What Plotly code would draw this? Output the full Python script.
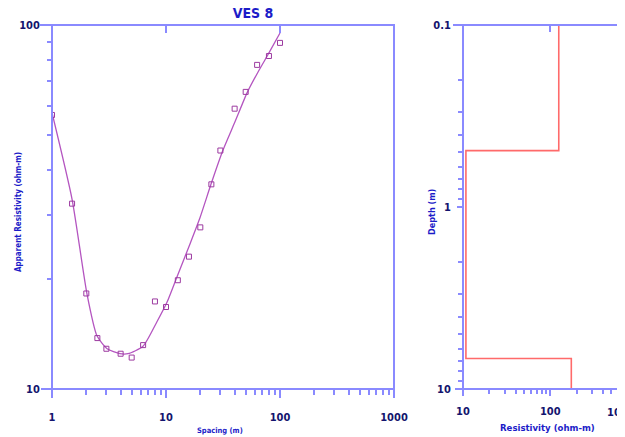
import plotly.graph_objects as go

# ---------------- data ----------------
spacing_obs = [1, 1.5, 2, 2.5, 3, 4, 5, 6.3, 8, 10, 12.7, 15.9, 20, 25, 30, 40, 50, 63, 80, 100]
rho_obs = [56.6, 32.3, 18.3, 13.8, 12.9, 12.5, 12.2, 13.2, 17.4, 16.8, 19.9, 23.1, 27.8, 36.5, 45.2, 58.9, 65.5, 77.7, 82.2, 89.3]

spacing_fit = [1, 1.5, 2.03, 2.48, 3.04, 3.95, 4.64, 6.28, 8.33, 10.2, 12.7, 16.2, 19.9, 24.8, 31.5, 40.3, 51.4, 64.2, 80, 100]
rho_fit = [57.4, 33.2, 18.2, 14.0, 12.9, 12.5, 12.5, 13.1, 15.3, 17.3, 20.6, 25.0, 29.6, 36.5, 45.2, 54.2, 65.1, 74.3, 83.8, 95.1]

layer_res = [125, 10.8, 174]
layer_bottom = [0.49, 6.8]
depth_top, depth_bottom = 0.1, 10

# step model built from the layer arrays
model_x, model_y = [], []
tops = [depth_top] + layer_bottom
bots = layer_bottom + [depth_bottom]
for r, t, b in zip(layer_res, tops, bots):
    model_x += [r, r]
    model_y += [t, b]

# the page body adds an 8px offset, so the figure is 8px smaller
OFF = 8
W, H = 625 - OFF, 437 - OFF
AX = "#8a8aff"
LAB = "#14146e"
BLUE = "#1c1cc8"
FONT = "Liberation Sans Narrow, DejaVu Sans Condensed, Arial Narrow, sans-serif"

def px(x):
    return (x - OFF) / W

def py(y):
    return (H - (y - OFF)) / H

left_dom = [px(52), px(394)]
right_dom = [px(463), 1.0]
y_dom = [py(389), py(25)]

minor_sp = [2, 3, 4, 5, 6, 7, 8, 9, 20, 30, 40, 50, 60, 70, 80, 90, 200, 300, 400, 500, 600, 700, 800, 900]
minor_rho = [20, 30, 40, 50, 60, 70, 80, 90]
minor_depth = [0.2, 0.3, 0.4, 0.5, 0.6, 0.7, 0.8, 0.9, 2, 3, 4, 5, 6, 7, 8, 9]
minor_res2 = [20, 30, 40, 50, 60, 70, 80, 90, 200, 300, 400, 500, 600, 700, 800, 900]

fig = go.Figure()

fig.add_trace(go.Scatter(x=spacing_fit, y=rho_fit, mode="lines",
                         line=dict(color="#b455c0", width=1.3, shape="spline", smoothing=0.6),
                         xaxis="x", yaxis="y", showlegend=False))
fig.add_trace(go.Scatter(x=spacing_obs, y=rho_obs, mode="markers",
                         marker=dict(symbol="square-open", size=5, color="#9c3aa0",
                                     line=dict(width=1)),
                         xaxis="x", yaxis="y", showlegend=False))
fig.add_trace(go.Scatter(x=model_x, y=model_y, mode="lines",
                         line=dict(color="#ff6a6a", width=1.6),
                         xaxis="x2", yaxis="y2", showlegend=False))
# invisible traces for the top tick axes
fig.add_trace(go.Scatter(x=[10], y=[50], mode="markers", marker=dict(opacity=0),
                         xaxis="x3", yaxis="y", showlegend=False, hoverinfo="skip"))
fig.add_trace(go.Scatter(x=[100], y=[1], mode="markers", marker=dict(opacity=0),
                         xaxis="x4", yaxis="y2", showlegend=False, hoverinfo="skip"))

tickfont = dict(family=FONT, size=11, color=LAB, weight="bold")

common = dict(type="log", showgrid=False, zeroline=False, showline=False, automargin=False,
              tickcolor=AX, tickwidth=1.5, tickfont=tickfont)

fig.update_layout(
    template="none",
    width=W, height=H,
    margin=dict(l=0, r=0, t=0, b=0, pad=0),
    paper_bgcolor="white", plot_bgcolor="white",
    xaxis=dict(domain=left_dom, range=[0, 3], anchor="y",
               tickvals=[1, 10, 100, 1000], ticktext=["1", "10", "100", "1000"],
               ticks="outside", ticklen=8, ticklabelstandoff=10,
               minor=dict(tickvals=minor_sp, ticks="outside", ticklen=5,
                          tickcolor=AX, tickwidth=1.5, showgrid=False),
               **common),
    yaxis=dict(domain=y_dom, range=[1, 2], anchor="x",
               tickvals=[10, 100], ticktext=["10", "100"],
               ticks="outside", ticklen=5, ticklabelstandoff=4,
               minor=dict(tickvals=minor_rho, ticks="outside", ticklen=4,
                          tickcolor=AX, tickwidth=1.5, showgrid=False),
               **common),
    xaxis3=dict(domain=left_dom, range=[0, 3], overlaying="x", side="top", anchor="y",
                tickvals=[10, 100], ticks="inside", ticklen=8, showticklabels=False,
                **common),
    xaxis2=dict(domain=right_dom, range=[1, 1 + 154 / 83], anchor="y2",
                tickvals=[10, 100], ticktext=["10", "100"],
                ticks="outside", ticklen=6, ticklabelstandoff=6,
                minor=dict(tickvals=minor_res2, ticks="outside", ticklen=4,
                           tickcolor=AX, tickwidth=1.5, showgrid=False),
                **common),
    yaxis2=dict(domain=y_dom, range=[1, -1], anchor="x2",
                tickvals=[0.1, 1, 10], ticktext=["0.1", "1", "10"],
                ticks="outside", ticklen=5, ticklabelstandoff=4,
                minor=dict(tickvals=minor_depth, ticks="outside", ticklen=4,
                           tickcolor=AX, tickwidth=1.5, showgrid=False),
                **common),
    xaxis4=dict(domain=right_dom, range=[1, 1 + 154 / 83], overlaying="x2", side="top",
                anchor="y2", tickvals=[100], ticks="inside", ticklen=7,
                showticklabels=False, **common),
    title=dict(text="VES 8", x=px(253), xanchor="center", y=1, yanchor="top",
               xref="paper", yref="container", automargin=False, pad=dict(t=0, b=0),
               font=dict(family=FONT, size=14, color=BLUE, weight="bold")),
)

# frame lines
frame = [
    (40, 25, 395, 25), (41, 389, 395, 389), (52, 25, 52, 396), (394, 25, 394, 396),
    (453, 25, 625, 25), (455, 389, 625, 389), (463, 25, 463, 396),
]
for x0, y0, x1, y1 in frame:
    fig.add_shape(type="line", xref="paper", yref="paper",
                  x0=px(x0), y0=py(y0), x1=px(x1), y1=py(y1),
                  line=dict(color=AX, width=2), layer="above")

ann_font = dict(family=FONT, color=BLUE, weight="bold")
def label(text, x, y, size, angle=0, font=None):
    fig.add_annotation(text=text, x=px(x), y=py(y), xref="paper", yref="paper",
                       xanchor="center", yanchor="middle", textangle=angle, showarrow=False,
                       font=font if font else dict(size=size, **ann_font))

label("Apparent Resistivity (ohm-m)", 18, 212, 8, -90)
label("Spacing (m)", 220, 430, 7.5)
label("Depth (m)", 432, 212, 9, -90)
label("Resistivity (ohm-m)", 547, 427, 9.5)
label("1000", 621, 412, 11, font=tickfont)

fig.write_html("out.html")
